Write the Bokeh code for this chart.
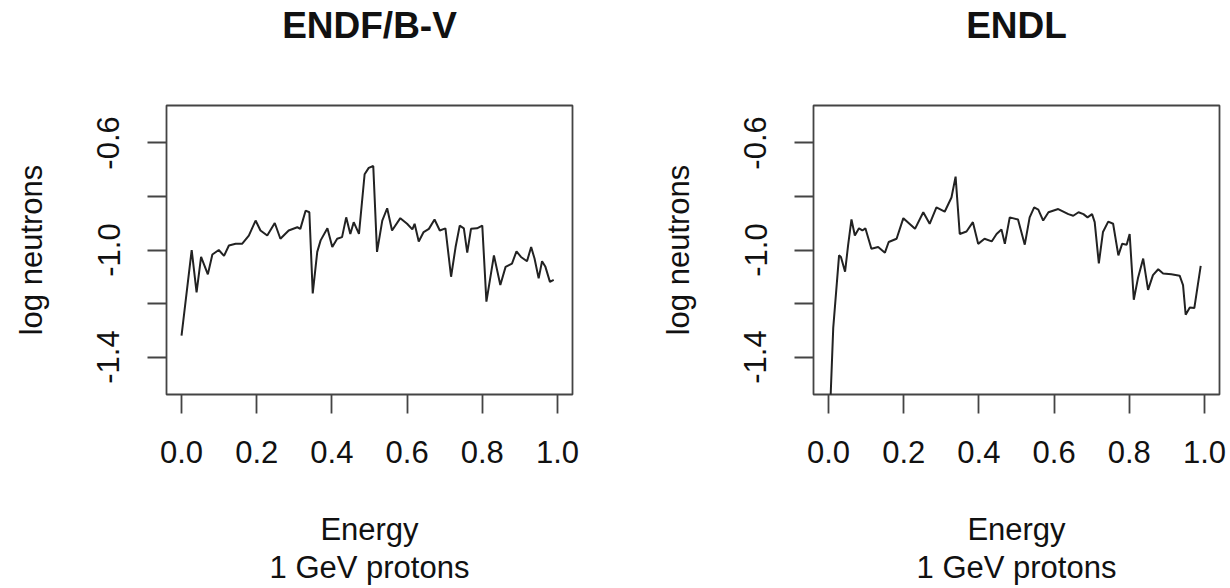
from bokeh.plotting import figure
from bokeh.layouts import row
from bokeh.models import Range1d, FixedTicker, LinearAxis
from bokeh.embed import file_html
from bokeh.resources import INLINE

# ---- data ----
panel_titles = ["ENDF/B-V", "ENDL"]

energy_endf = [0.000, 0.027, 0.040, 0.052, 0.070, 0.082, 0.099, 0.113, 0.126, 0.144,
               0.161, 0.179, 0.197, 0.210, 0.228, 0.248, 0.263, 0.285, 0.308, 0.316,
               0.330, 0.340, 0.349, 0.361, 0.370, 0.388, 0.401, 0.414, 0.427, 0.438,
               0.449, 0.458, 0.472, 0.487, 0.498, 0.510, 0.520, 0.534, 0.547, 0.560,
               0.582, 0.600, 0.614, 0.620, 0.631, 0.644, 0.658, 0.673, 0.687, 0.702,
               0.717, 0.729, 0.740, 0.751, 0.760, 0.770, 0.786, 0.800, 0.811, 0.831,
               0.848, 0.862, 0.879, 0.891, 0.903, 0.919, 0.930, 0.939, 0.950, 0.959,
               0.968, 0.980, 0.990]
log_n_endf = [-1.320, -1.000, -1.158, -1.026, -1.091, -1.017, -1.000, -1.022, -0.983, -0.977,
              -0.977, -0.946, -0.890, -0.927, -0.946, -0.899, -0.958, -0.927, -0.915, -0.921,
              -0.853, -0.859, -1.162, -1.007, -0.964, -0.919, -0.989, -0.958, -0.952, -0.878,
              -0.940, -0.896, -0.940, -0.717, -0.693, -0.686, -1.007, -0.890, -0.844, -0.927,
              -0.881, -0.902, -0.923, -0.902, -0.968, -0.933, -0.921, -0.886, -0.927, -0.919,
              -1.100, -0.989, -0.909, -0.919, -1.010, -0.921, -0.919, -0.909, -1.193, -1.020,
              -1.131, -1.063, -1.051, -1.005, -1.026, -1.042, -0.989, -1.032, -1.106, -1.042,
              -1.063, -1.119, -1.112]

energy_endl = [0.000, 0.0125, 0.028, 0.033, 0.044, 0.052, 0.061, 0.070, 0.081, 0.090,
               0.098, 0.114, 0.132, 0.150, 0.160, 0.181, 0.199, 0.230, 0.252, 0.269,
               0.287, 0.309, 0.327, 0.338, 0.349, 0.367, 0.384, 0.398, 0.415, 0.434,
               0.447, 0.460, 0.469, 0.482, 0.504, 0.522, 0.535, 0.547, 0.558, 0.571,
               0.585, 0.611, 0.638, 0.651, 0.665, 0.678, 0.689, 0.701, 0.708, 0.719,
               0.730, 0.744, 0.757, 0.771, 0.781, 0.793, 0.801, 0.812, 0.823, 0.837,
               0.850, 0.863, 0.877, 0.890, 0.912, 0.934, 0.943, 0.950, 0.961, 0.973,
               0.990]
log_n_endl = [-1.750, -1.291, -1.020, -1.026, -1.081, -0.983, -0.886, -0.946, -0.919, -0.927,
              -0.919, -0.995, -0.989, -1.010, -0.970, -0.958, -0.881, -0.921, -0.859, -0.902,
              -0.841, -0.857, -0.804, -0.726, -0.940, -0.931, -0.896, -0.977, -0.958, -0.968,
              -0.940, -0.923, -0.977, -0.878, -0.886, -0.980, -0.878, -0.841, -0.849, -0.890,
              -0.859, -0.847, -0.866, -0.872, -0.859, -0.866, -0.878, -0.866, -0.896, -1.050,
              -0.933, -0.894, -0.902, -1.020, -0.977, -0.980, -0.940, -1.186, -1.106, -1.032,
              -1.149, -1.094, -1.072, -1.088, -1.091, -1.096, -1.131, -1.242, -1.215, -1.217,
              -1.059]

x_tick_values = [0.0, 0.2, 0.4, 0.6, 0.8, 1.0]
x_tick_labels = ["0.0", "0.2", "0.4", "0.6", "0.8", "1.0"]
y_tick_values = [-1.4, -1.2, -1.0, -0.8, -0.6]
y_tick_labels = ["-1.4", "", "-1.0", "", "-0.6"]

x_label = "Energy\n1 GeV protons"
y_label = "log neutrons"

FONT = "Liberation Sans"
INK = "#111111"
FRAME = "#444444"


def make_panel(title, xs, ys, width, border_left, border_right):
    p = figure(width=width, height=588,
               x_range=Range1d(-0.04, 1.04), y_range=Range1d(-1.54, -0.46),
               output_backend="svg", toolbar_location=None,
               min_border_left=border_left, min_border_right=border_right,
               min_border_top=105, min_border_bottom=194,
               background_fill_color="white", border_fill_color="white",
               outline_line_color=FRAME, outline_line_width=1.8)
    p.grid.visible = False
    p.title.text = ""

    xax = p.below[0]
    yax = p.left[0]
    for ax in (xax, yax):
        ax.axis_line_color = None
        ax.major_tick_in = 0
        ax.major_tick_out = 19
        ax.major_tick_line_color = FRAME
        ax.major_tick_line_width = 1.8
        ax.minor_tick_line_color = None
        ax.major_label_text_font = FONT
        ax.major_label_text_font_size = "31px"
        ax.major_label_text_color = INK
        ax.axis_label_text_font = FONT
        ax.axis_label_text_font_size = "31px"
        ax.axis_label_text_font_style = "normal"
        ax.axis_label_text_color = INK

    xax.ticker = FixedTicker(ticks=x_tick_values)
    xax.major_label_overrides = dict(zip(x_tick_values, x_tick_labels))
    xax.major_label_standoff = 27
    xax.axis_label = x_label
    xax.axis_label_standoff = 46
    xax.axis_label_text_line_height = 1.1

    yax.ticker = FixedTicker(ticks=y_tick_values)
    yax.major_label_overrides = dict(zip(y_tick_values, y_tick_labels))
    yax.major_label_orientation = "parallel"
    yax.major_label_standoff = 28
    yax.axis_label = y_label
    yax.axis_label_standoff = 46

    # panel title: drawn as the label of a bare axis above the frame so it
    # can sit well above the box, as in the R layout
    top = LinearAxis(ticker=FixedTicker(ticks=[0.5]),
                     major_label_overrides={0.5: ""},
                     major_label_text_font_size="1px",
                     axis_line_color=None, major_tick_in=0, major_tick_out=0,
                     major_tick_line_color=None, minor_tick_line_color=None,
                     axis_label=title, axis_label_text_font=FONT,
                     axis_label_text_font_size="37px",
                     axis_label_text_font_style="bold",
                     axis_label_text_color=INK,
                     major_label_standoff=0, axis_label_standoff=60)
    p.add_layout(top, "above")

    p.line(xs, ys, line_color="#222222", line_width=2.0)
    return p


p1 = make_panel(panel_titles[0], energy_endf, log_n_endf, 615, 166, 43)
p2 = make_panel(panel_titles[1], energy_endl, log_n_endl, 614, 198, 10)

layout = row(p1, p2)
open("out.html", "w").write(file_html(layout, INLINE))
